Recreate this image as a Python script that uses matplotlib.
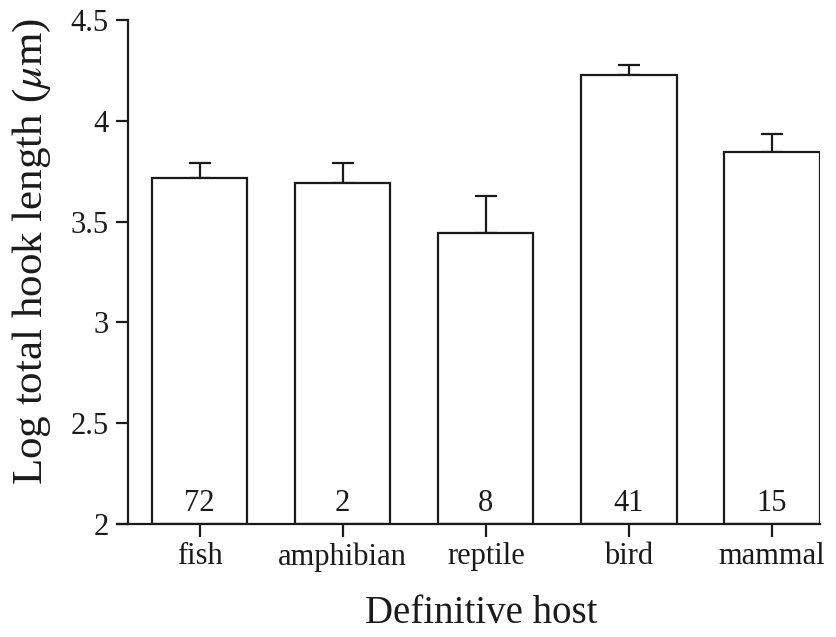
import matplotlib
matplotlib.use("Agg")
import matplotlib.pyplot as plt

categories = ["fish", "amphibian", "reptile", "bird", "mammal"]
means = [3.716, 3.69, 3.443, 4.227, 3.845]
err_upper = [3.79, 3.79, 3.627, 4.277, 3.933]
counts = ["72", "2", "8", "41", "15"]
yticks = [2, 2.5, 3, 3.5, 4, 4.5]
ytick_labels = ["2", "2.5", "3", "3.5", "4", "4.5"]

plt.rcParams['font.family'] = ['Liberation Serif', 'DejaVu Serif']
plt.rcParams['mathtext.fontset'] = 'stix'

fig = plt.figure(figsize=(8.37, 6.37), dpi=100)
ax = fig.add_axes([128/837, 1-524/637, (820-128)/837, (524-20)/637])

x = list(range(len(categories)))
errs = [u - m for u, m in zip(err_upper, means)]
lw = 1.6
col = '#1a1a1a'
ax.bar(x, [m - 2 for m in means], bottom=2, width=0.665, color='white',
       edgecolor=col, linewidth=lw, zorder=2)
ax.errorbar(x, means, yerr=[[0]*len(x), errs], fmt='none', ecolor=col,
            elinewidth=lw, capsize=8, capthick=lw, zorder=1)

for xi, c in zip(x, counts):
    ax.text(xi, 2.1, c, ha='center', va='center', fontsize=22, color=col, zorder=3)

ax.set_xlim(-0.5, 4.335)
ax.set_ylim(2, 4.5)
ax.set_xticks(x)
ax.set_xticklabels(categories, fontsize=22)
ax.set_yticks(yticks)
ax.set_yticklabels(ytick_labels, fontsize=22)

for s in ['top', 'right']:
    ax.spines[s].set_visible(False)
for s in ['left', 'bottom']:
    ax.spines[s].set_linewidth(lw)
    ax.spines[s].set_color(col)
ax.spines['bottom'].set_bounds(-0.58, 4.335)
ax.tick_params(axis='both', direction='out', length=9, width=lw, color=col, labelcolor=col)
ax.tick_params(axis='x', pad=4)
ax.tick_params(axis='y', pad=5)

ax.set_xlabel("Definitive host", fontsize=28, color=col)
ax.set_ylabel(r"Log total hook length ($\mu$m)", fontsize=31, color=col)
ax.xaxis.set_label_coords(0.51, -0.141)
ax.yaxis.set_label_coords(-0.109, 0.54)

fig.savefig("out.png", dpi=100)
